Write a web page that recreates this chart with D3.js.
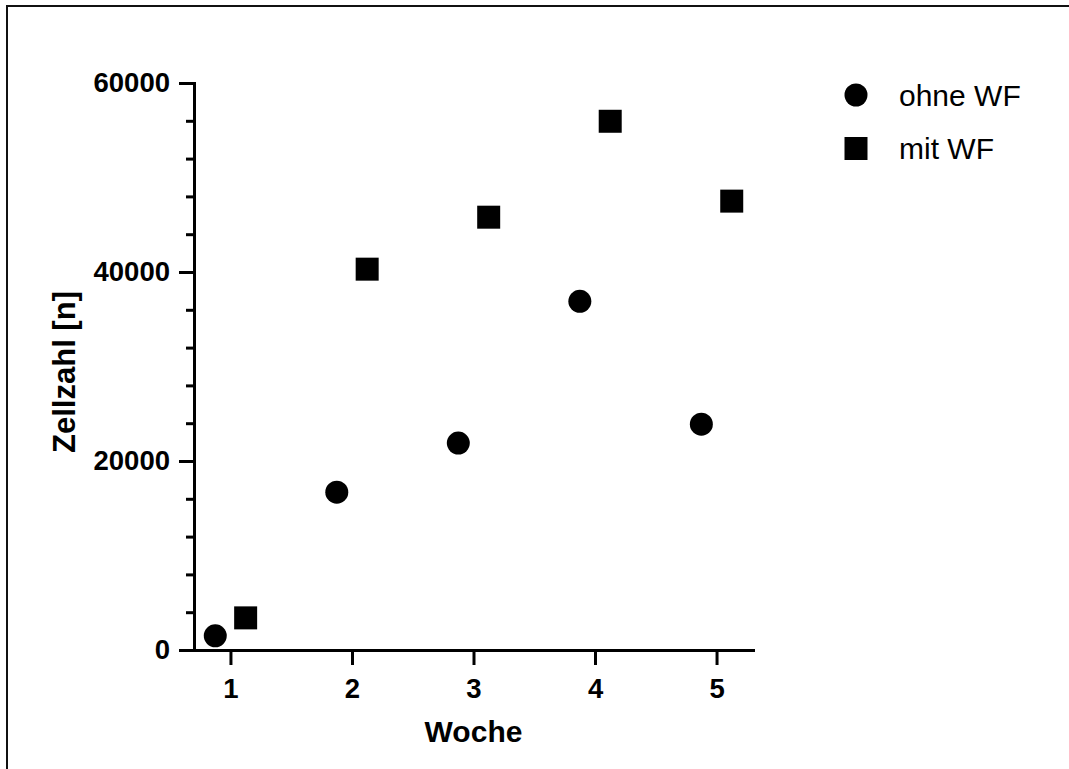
<!DOCTYPE html>
<html>
<head>
<meta charset="utf-8">
<script src="https://cdn.jsdelivr.net/npm/d3@7"></script>
<style>
  body { margin: 0; background: #fff; }
  svg { display: block; font-family: "Liberation Sans", Arial, sans-serif; }
</style>
</head>
<body>
<div id="chart"></div>
<script>
// data
var weeks = [1, 2, 3, 4, 5];
var ohneWF = [1500, 16700, 21900, 36900, 23900];
var mitWF = [3400, 40300, 45800, 55950, 47500];
var yTickValues = [0, 20000, 40000, 60000];
var seriesNames = ["ohne WF", "mit WF"];

var width = 1069, height = 769;

var svg = d3.select('#chart').append('svg')
    .attr('width', width)
    .attr('height', height);

// frame (top + left visible)
svg.append('rect')
    .attr('x', 7).attr('y', 6)
    .attr('width', 1200).attr('height', 900)
    .attr('fill', 'none')
    .attr('stroke', '#111')
    .attr('stroke-width', 2);

var x = d3.scaleLinear().domain([0.7, 5.3]).range([194, 753]);
var y = d3.scaleLinear().domain([0, 60000]).range([650, 83]);

function styleAxis(g) {
  g.select('.domain').attr('stroke', '#000').attr('stroke-width', 3).attr('stroke-linecap', 'square');
  g.selectAll('.tick line').attr('stroke', '#000').attr('stroke-width', 3);
  g.selectAll('.tick text')
    .attr('fill', '#000')
    .style('font-weight', 'bold')
    .style('font-size', '27.5px');
}

// minor y ticks
svg.append('g')
    .attr('transform', 'translate(' + x(0.7) + ',0)')
    .call(d3.axisLeft(y).tickValues(d3.range(0, 60001, 4000)).tickSize(8).tickFormat(''))
    .call(function(g) {
      g.select('.domain').remove();
      g.selectAll('.tick line').attr('stroke', '#000').attr('stroke-width', 3);
    });

// major y axis
svg.append('g')
    .attr('transform', 'translate(' + x(0.7) + ',0)')
    .call(d3.axisLeft(y).tickValues(yTickValues).tickSize(15).tickSizeOuter(0).tickPadding(9).tickFormat(d3.format('d')))
    .call(styleAxis);

// x axis
svg.append('g')
    .attr('transform', 'translate(0,' + y(0) + ')')
    .call(d3.axisBottom(x).tickValues(weeks).tickSize(15).tickSizeOuter(0).tickPadding(13).tickFormat(d3.format('d')))
    .call(styleAxis);

// axis titles
svg.append('text')
    .attr('x', (x.range()[0] + x.range()[1]) / 2)
    .attr('y', 742)
    .attr('text-anchor', 'middle')
    .style('font-weight', 'bold')
    .style('font-size', '30px')
    .text('Woche');

svg.append('text')
    .attr('transform', 'translate(75,372) rotate(-90)')
    .attr('text-anchor', 'middle')
    .style('font-weight', 'bold')
    .style('font-size', '31px')
    .text('Zellzahl [n]');

// markers
var circleSym = d3.symbol().type(d3.symbolCircle).size(Math.PI * 11.5 * 11.5);
var squareSym = d3.symbol().type(d3.symbolSquare).size(23 * 23);
var offset = 0.125;

svg.append('g').selectAll('path')
    .data(weeks)
    .join('path')
    .attr('d', circleSym)
    .attr('transform', function(d, i) { return 'translate(' + x(d - offset) + ',' + y(ohneWF[i]) + ')'; })
    .attr('fill', '#000');

svg.append('g').selectAll('path')
    .data(weeks)
    .join('path')
    .attr('d', squareSym)
    .attr('transform', function(d, i) { return 'translate(' + x(d + offset) + ',' + y(mitWF[i]) + ')'; })
    .attr('fill', '#000');

// legend
var legend = svg.append('g').attr('transform', 'translate(856,95)');
var syms = [circleSym, squareSym];
seriesNames.forEach(function(name, i) {
  var row = legend.append('g').attr('transform', 'translate(0,' + (i * 53.5) + ')');
  row.append('path').attr('d', syms[i]).attr('fill', '#000');
  row.append('text')
      .attr('x', 43)
      .attr('y', 10.5)
      .style('font-size', '30px')
      .attr('fill', '#000')
      .text(name);
});
</script>
</body>
</html>
